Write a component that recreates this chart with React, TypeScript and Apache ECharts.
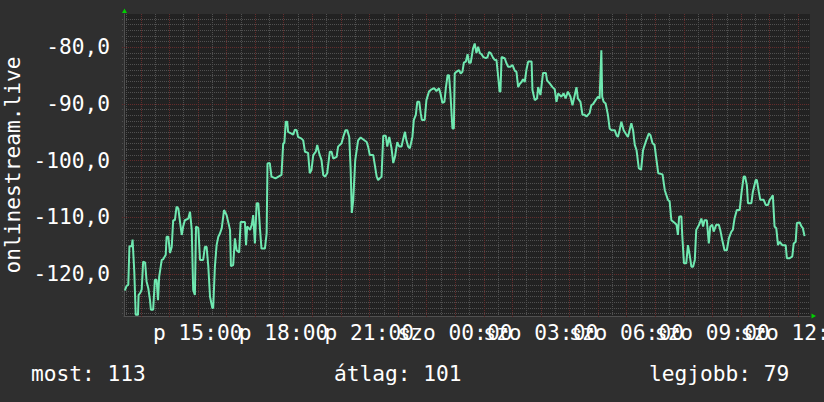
import React, { useEffect, useRef } from "react";
import * as echarts from "echarts";

// time in hours since Friday 00:00, value in dBm
const SIGNAL: [number, number][] = [
  [12.45, -123.0], [12.51, -122.2], [12.57, -122.0], [12.61, -115.2], [12.69, -115.2], [12.72, -114.0], [12.78, -119.7], [12.83, -127.3],
  [12.91, -127.3], [12.93, -123.8], [12.99, -123.4], [13.04, -122.8], [13.09, -117.9], [13.16, -118.1], [13.21, -121.4], [13.27, -122.6],
  [13.33, -124.7], [13.36, -126.4], [13.44, -126.4], [13.5, -121.1], [13.56, -121.1], [13.61, -124.7], [13.65, -120.6], [13.74, -117.6],
  [13.79, -117.5], [13.88, -116.7], [13.91, -113.5], [13.97, -113.5], [14.03, -116.4], [14.09, -115.3], [14.14, -110.6], [14.2, -110.6],
  [14.26, -108.2], [14.32, -108.5], [14.38, -110.9], [14.44, -113.2], [14.49, -111.7], [14.55, -110.6], [14.67, -110.3], [14.73, -109.1],
  [14.79, -112.3], [14.84, -122.9], [14.9, -123.8], [14.94, -111.7], [15.02, -112.0], [15.08, -117.6], [15.19, -117.6], [15.25, -115.3],
  [15.31, -115.3], [15.37, -118.8], [15.43, -124.1], [15.51, -126.1], [15.54, -126.1], [15.6, -118.8], [15.66, -115.0], [15.72, -113.5],
  [15.78, -112.9], [15.84, -112.0], [15.92, -108.8], [16.01, -109.7], [16.13, -112.3], [16.16, -118.7], [16.24, -118.5], [16.3, -113.8],
  [16.36, -115.9], [16.45, -116.3], [16.5, -110.9], [16.65, -110.9], [16.69, -115.0], [16.73, -111.7], [16.83, -112.3], [16.89, -111.4],
  [16.94, -109.7], [17.0, -114.7], [17.06, -107.6], [17.12, -107.6], [17.18, -112.3], [17.23, -115.6], [17.35, -115.6], [17.41, -112.9],
  [17.44, -100.6], [17.52, -100.5], [17.58, -102.9], [17.72, -103.2], [17.93, -102.6], [17.99, -97.0], [18.03, -97.0], [18.08, -93.2],
  [18.13, -93.2], [18.16, -95.0], [18.28, -95.3], [18.34, -95.5], [18.4, -94.6], [18.46, -94.7], [18.51, -95.9], [18.63, -96.2],
  [18.69, -96.5], [18.75, -98.5], [18.86, -98.7], [18.92, -102.3], [18.98, -101.7], [19.04, -99.1], [19.13, -98.5], [19.18, -97.3],
  [19.25, -98.8], [19.33, -100.0], [19.39, -102.6], [19.45, -102.9], [19.53, -102.3], [19.62, -98.5], [19.68, -98.5], [19.74, -99.7],
  [19.86, -99.4], [19.91, -97.6], [20.03, -97.0], [20.09, -95.9], [20.17, -94.7], [20.23, -94.7], [20.3, -95.9], [20.35, -101.7],
  [20.39, -109.3], [20.44, -107.0], [20.51, -100.0], [20.61, -96.5], [20.7, -96.0], [20.91, -96.8], [20.96, -97.6], [21.02, -99.1],
  [21.14, -99.1], [21.26, -102.9], [21.31, -103.5], [21.43, -102.9], [21.49, -95.7], [21.58, -95.7], [21.63, -97.6], [21.7, -95.9],
  [21.78, -97.9], [21.84, -100.5], [21.9, -99.4], [21.98, -96.8], [22.05, -97.6], [22.13, -97.6], [22.19, -96.2], [22.25, -95.0],
  [22.3, -96.5], [22.36, -97.6], [22.42, -97.9], [22.51, -95.9], [22.56, -92.9], [22.63, -92.0], [22.68, -89.7], [22.75, -89.7],
  [22.8, -91.7], [22.84, -92.9], [22.94, -92.9], [23.0, -89.4], [23.09, -87.9], [23.18, -87.5], [23.27, -87.3], [23.35, -87.8],
  [23.44, -87.3], [23.49, -88.2], [23.56, -89.9], [23.63, -89.7], [23.68, -87.3], [23.74, -85.0], [23.79, -85.0], [23.84, -88.2],
  [23.91, -94.4], [23.96, -94.4], [23.99, -84.7], [24.05, -84.4], [24.14, -84.1], [24.2, -84.7], [24.26, -84.4], [24.31, -82.8],
  [24.38, -82.6], [24.44, -81.3], [24.49, -82.8], [24.55, -82.8], [24.63, -80.3], [24.69, -79.4], [24.75, -81.1], [24.81, -80.0],
  [24.87, -81.1], [24.93, -81.3], [24.99, -81.8], [25.08, -82.0], [25.14, -81.8], [25.19, -80.9], [25.25, -81.1], [25.33, -81.9],
  [25.39, -82.3], [25.45, -82.3], [25.5, -84.7], [25.56, -87.9], [25.59, -87.9], [25.63, -81.8], [25.74, -82.0], [25.8, -82.9],
  [25.86, -83.5], [25.94, -83.5], [26.01, -83.2], [26.09, -84.2], [26.15, -84.4], [26.21, -87.1], [26.27, -86.5], [26.33, -86.2],
  [26.38, -85.7], [26.44, -86.2], [26.5, -84.0], [26.56, -82.6], [26.68, -82.6], [26.71, -87.6], [26.79, -89.4], [26.87, -89.1],
  [26.91, -87.1], [26.99, -88.5], [27.08, -84.6], [27.18, -84.6], [27.22, -85.9], [27.32, -86.5], [27.41, -87.1], [27.49, -87.5],
  [27.55, -89.7], [27.61, -88.2], [27.72, -88.8], [27.8, -88.2], [27.87, -89.1], [27.95, -87.9], [28.04, -88.8], [28.11, -90.3],
  [28.19, -88.5], [28.25, -87.1], [28.3, -89.1], [28.39, -89.7], [28.46, -92.0], [28.54, -92.0], [28.6, -92.3], [28.65, -92.0],
  [28.71, -91.7], [28.77, -90.3], [28.83, -90.1], [28.92, -89.4], [29.0, -88.8], [29.06, -89.1], [29.12, -80.6], [29.15, -88.8],
  [29.2, -89.7], [29.27, -90.0], [29.35, -92.0], [29.41, -94.4], [29.47, -94.7], [29.59, -94.7], [29.65, -95.6], [29.7, -95.9],
  [29.76, -94.7], [29.82, -93.2], [29.9, -94.7], [29.97, -95.3], [30.05, -95.9], [30.17, -93.5], [30.23, -94.7], [30.29, -97.3],
  [30.35, -98.2], [30.43, -101.4], [30.51, -101.7], [30.58, -98.2], [30.69, -96.5], [30.78, -95.3], [30.84, -95.6], [30.91, -97.0],
  [30.98, -97.3], [31.11, -102.3], [31.26, -102.5], [31.34, -105.3], [31.45, -107.0], [31.51, -107.3], [31.57, -110.6], [31.69, -111.1],
  [31.75, -111.4], [31.8, -113.2], [31.84, -110.0], [31.92, -109.9], [31.95, -113.2], [32.01, -118.2], [32.09, -118.2], [32.15, -115.0],
  [32.21, -116.7], [32.27, -118.8], [32.33, -118.8], [32.39, -117.6], [32.44, -112.3], [32.54, -111.4], [32.62, -110.3], [32.68, -111.7],
  [32.73, -110.6], [32.81, -110.6], [32.88, -114.7], [32.93, -111.7], [33.0, -111.4], [33.05, -112.6], [33.14, -111.4], [33.23, -111.4],
  [33.28, -112.3], [33.35, -114.1], [33.43, -115.9], [33.51, -115.9], [33.58, -113.8], [33.67, -112.6], [33.72, -112.3], [33.78, -110.3],
  [33.86, -108.8], [33.96, -108.8], [34.02, -105.9], [34.1, -102.9], [34.15, -102.9], [34.21, -104.4], [34.25, -107.6], [34.37, -107.6],
  [34.42, -105.6], [34.52, -103.5], [34.56, -103.5], [34.63, -105.6], [34.68, -107.0], [34.8, -107.0], [34.87, -107.9], [34.95, -107.9],
  [35.01, -107.0], [35.07, -106.6], [35.12, -106.2], [35.18, -111.7], [35.24, -112.0], [35.3, -115.0], [35.36, -114.4], [35.45, -115.0],
  [35.57, -115.0], [35.61, -117.3], [35.71, -117.3], [35.8, -117.0], [35.85, -114.7], [35.92, -114.4], [35.96, -111.1], [36.06, -111.0],
  [36.12, -111.7], [36.17, -112.0], [36.23, -113.4],
];

const T_MIN = 12.42;
const T_MAX = 36.42;
const V_MIN = -127.5;
const V_MAX = -74.2;

const X_TICKS = [15, 18, 21, 24, 27, 30, 33, 36];
const X_LABELS = ["p 15:00", "p 18:00", "p 21:00", "szo 00:00", "szo 03:00", "szo 06:00", "szo 09:00", "szo 12:00"];
const Y_TICKS = [-120, -110, -100, -90, -80];
const Y_LABELS = ["-120,0", "-110,0", "-100,0", "-90,0", "-80,0"];

const Y_TITLE = "onlinestream.live";
const CURRENT = 113;
const AVERAGE = 101;
const BEST = 79;

const FONT = '21.2px "DejaVu Sans Mono"';
const GRAY = "#505050";
const RED = "#642c2c";
const LINE = "#6fe8b0";
const ARROW = "#00d000";

const H_GRID: number[] = [];
for (let v = Math.ceil(V_MIN); v <= Math.floor(V_MAX); v++) H_GRID.push(v);
const V_GRID: number[] = [];
for (let k = Math.ceil(T_MIN * 2); k <= Math.floor(T_MAX * 2); k++) V_GRID.push(k / 2);

export default function App() {
  const ref = useRef<HTMLDivElement>(null);
  useEffect(() => {
    if (!ref.current) return;
    const chart = echarts.init(ref.current, null, { renderer: "svg" });
    chart.setOption({
      animation: false,
      backgroundColor: "#2f2f2f",
      grid: { left: 124, top: 14, width: 686, height: 302, show: true, backgroundColor: "#222222", borderWidth: 0 },
      xAxis: {
        type: "value", min: T_MIN, max: T_MAX,
        axisLine: { show: true, onZero: false, lineStyle: { color: GRAY, width: 1 } },
        axisTick: { show: false }, axisLabel: { show: false }, splitLine: { show: false },
      },
      yAxis: {
        type: "value", min: V_MIN, max: V_MAX,
        axisLine: { show: true, onZero: false, lineStyle: { color: GRAY, width: 1 } },
        axisTick: { show: false }, axisLabel: { show: false }, splitLine: { show: false },
      },
      graphic: [
        { type: "text", x: 12.7, y: 165, rotation: Math.PI / 2, style: { text: Y_TITLE, font: FONT, fill: "#ffffff", align: "center", verticalAlign: "middle" } },
        { type: "text", x: 31, y: 373.5, style: { text: `most: ${CURRENT}`, font: FONT, fill: "#ffffff", align: "left", verticalAlign: "middle" } },
        { type: "text", x: 334, y: 373.5, style: { text: `átlag: ${AVERAGE}`, font: FONT, fill: "#ffffff", align: "left", verticalAlign: "middle" } },
        { type: "text", x: 649, y: 373.5, style: { text: `legjobb: ${BEST}`, font: FONT, fill: "#ffffff", align: "left", verticalAlign: "middle" } },
        { type: "polygon", shape: { points: [[122, 13], [124.5, 8.5], [127, 13]] }, style: { fill: ARROW } },
        { type: "polygon", shape: { points: [[811.5, 313.5], [816, 316], [811.5, 318.5]] }, style: { fill: ARROW } },
      ],
      series: [
        {
          type: "custom", silent: true, z: 1,
          data: H_GRID.map((v) => [T_MIN, v]),
          renderItem: (_p: any, api: any) => {
            const v = api.value(1);
            const a = api.coord([T_MIN, v]);
            const b = api.coord([T_MAX, v]);
            const y = Math.round(a[1]) + 0.5;
            const major = v % 10 === 0;
            return { type: "line", shape: { x1: a[0] - 2, y1: y, x2: b[0], y2: y }, style: { stroke: major ? RED : GRAY, lineWidth: 1, lineDash: [1, 1] } };
          },
        },
        {
          type: "custom", silent: true, z: 1,
          data: V_GRID.map((t) => [t, V_MIN]),
          renderItem: (_p: any, api: any) => {
            const t = api.value(0);
            const a = api.coord([t, V_MAX]);
            const b = api.coord([t, V_MIN]);
            const x = Math.round(a[0]) + 0.5;
            const major = Math.abs(t - Math.round(t)) < 1e-6;
            return { type: "line", shape: { x1: x, y1: a[1], x2: x, y2: b[1] + 2 }, style: { stroke: major ? RED : GRAY, lineWidth: 1, lineDash: [1, 1] } };
          },
        },
        {
          type: "custom", silent: true, z: 3,
          data: X_TICKS.map((t, i) => [t, V_MIN, i]),
          renderItem: (_p: any, api: any) => {
            const p = api.coord([api.value(0), V_MIN]);
            return { type: "text", x: p[0], y: p[1] + 16.5, style: { text: X_LABELS[api.value(2)], font: FONT, fill: "#ffffff", align: "center", verticalAlign: "middle" } };
          },
        },
        {
          type: "custom", silent: true, z: 3,
          data: Y_TICKS.map((v, i) => [T_MIN, v, i]),
          renderItem: (_p: any, api: any) => {
            const p = api.coord([T_MIN, api.value(1)]);
            return { type: "text", x: p[0] - 14, y: p[1], style: { text: Y_LABELS[api.value(2)], font: FONT, fill: "#ffffff", align: "right", verticalAlign: "middle" } };
          },
        },
        {
          type: "line", z: 5, data: SIGNAL, showSymbol: false, symbol: "none",
          lineStyle: { color: LINE, width: 2 }, itemStyle: { color: LINE },
        },
      ],
    });
    return () => chart.dispose();
  }, []);
  return <div ref={ref} style={{ position: "fixed", left: 0, top: 0, width: 824, height: 402 }} />;
}
